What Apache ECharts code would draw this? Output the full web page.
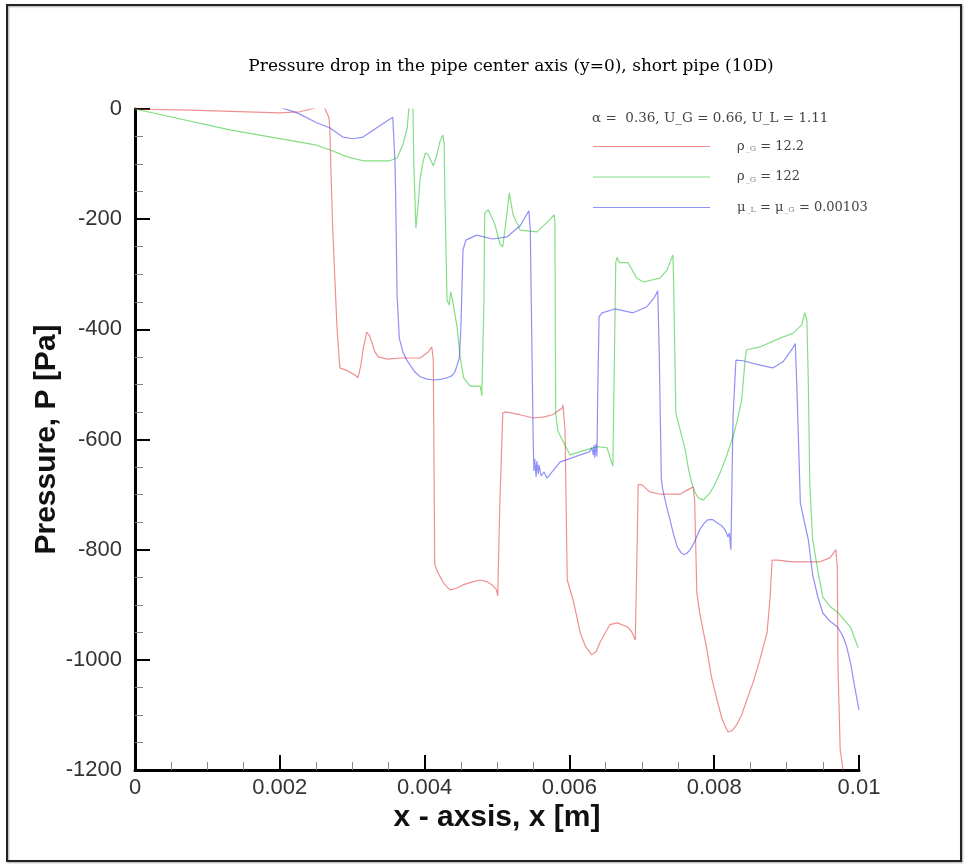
<!DOCTYPE html>
<html>
<head>
<meta charset="utf-8">
<title>Pressure drop in the pipe center axis</title>
<script src="https://cdn.jsdelivr.net/npm/echarts@6/dist/echarts.min.js"></script>
<style>
  html, body { margin: 0; padding: 0; background: #fff; }
  #chart { width: 964px; height: 864px; }
</style>
</head>
<body>
<div id="chart"></div>
<script>
// Centre-axis pressure P [Pa] versus axial position x [m], as [x, P] pairs.
const rhoG12 = [
  [0, 0], [0.00076, -2], [0.00200, -7], [0.00228, -5], [0.00249, 2], [0.00256, 16], [0.00262, 2],
  [0.00268, -16], [0.00269, -34], [0.00273, -216], [0.00279, -397], [0.00283, -470], [0.00293, -475],
  [0.00304, -483], [0.00308, -488], [0.00312, -465], [0.00315, -437], [0.00320, -405], [0.00324, -412],
  [0.00327, -423], [0.00331, -440], [0.00336, -450], [0.00349, -454], [0.00366, -452], [0.00394, -452],
  [0.00405, -441], [0.00410, -432], [0.00412, -456], [0.00414, -826], [0.00417, -838], [0.00421, -848],
  [0.00427, -862], [0.00435, -873], [0.00444, -870], [0.00453, -864], [0.00465, -859], [0.00477, -855],
  [0.00486, -858], [0.00493, -864], [0.00499, -872], [0.00501, -884], [0.00504, -711], [0.00508, -552],
  [0.00511, -550], [0.00532, -555], [0.00550, -561], [0.00565, -559], [0.00577, -555], [0.00590, -543],
  [0.00591, -537], [0.00594, -584], [0.00597, -855], [0.00598, -858], [0.00605, -891], [0.00610, -920],
  [0.00615, -951], [0.00622, -975], [0.00631, -991], [0.00637, -985], [0.00642, -969], [0.00650, -950],
  [0.00656, -936], [0.00666, -933], [0.00680, -940], [0.00686, -949], [0.00691, -964], [0.00693, -831],
  [0.00695, -682], [0.00700, -682], [0.00711, -695], [0.00725, -699], [0.00753, -699], [0.00764, -691],
  [0.00771, -686], [0.00773, -710], [0.00776, -878], [0.00780, -915], [0.00790, -982], [0.00796, -1030],
  [0.00804, -1073], [0.00811, -1108], [0.00819, -1131], [0.00825, -1128], [0.00831, -1118],
  [0.00838, -1100], [0.00845, -1073], [0.00854, -1040], [0.00863, -1000], [0.00873, -951], [0.00877, -891],
  [0.00880, -819], [0.00887, -819], [0.00909, -822], [0.00946, -822], [0.00960, -815], [0.00968, -800],
  [0.00970, -831], [0.00971, -1013], [0.00974, -1163], [0.00978, -1200], [0.00982, -1236]
];

const rhoG122 = [
  [0, 0], [0.00131, -38], [0.00249, -65], [0.00269, -74], [0.00293, -87], [0.00315, -94], [0.00352, -94],
  [0.00362, -89], [0.00370, -65], [0.00376, -34], [0.00378, -2], [0.00381, 16], [0.00384, -2],
  [0.00385, -96], [0.00388, -216], [0.00391, -174], [0.00394, -125], [0.00398, -95], [0.00401, -80],
  [0.00405, -83], [0.00412, -103], [0.00417, -83], [0.00421, -60], [0.00425, -47], [0.00427, -62],
  [0.00428, -156], [0.00431, -347], [0.00434, -356], [0.00436, -332], [0.00439, -350], [0.00445, -397],
  [0.00449, -450], [0.00454, -488], [0.00463, -503], [0.00477, -503], [0.00479, -521], [0.00482, -347],
  [0.00483, -189], [0.00488, -183], [0.00497, -209], [0.00504, -245], [0.00508, -250], [0.00514, -187],
  [0.00517, -152], [0.00522, -191], [0.00532, -220], [0.00555, -223], [0.00570, -205], [0.00579, -192],
  [0.00580, -205], [0.00581, -552], [0.00584, -584], [0.00591, -603], [0.00601, -628], [0.00615, -622],
  [0.00638, -613], [0.00652, -615], [0.00656, -632], [0.00660, -648], [0.00662, -468], [0.00664, -279],
  [0.00666, -269], [0.00669, -279], [0.00681, -279], [0.00693, -307], [0.00702, -314], [0.00725, -307],
  [0.00735, -292], [0.00739, -278], [0.00743, -265], [0.00744, -316], [0.00747, -552], [0.00753, -583],
  [0.00760, -619], [0.00764, -650], [0.00769, -679], [0.00774, -697], [0.00778, -706], [0.00785, -710],
  [0.00794, -697], [0.00800, -684], [0.00808, -661], [0.00817, -630], [0.00826, -595], [0.00832, -565],
  [0.00838, -528], [0.00843, -450], [0.00845, -437], [0.00863, -432], [0.00891, -416], [0.00909, -407],
  [0.00921, -392], [0.00925, -370], [0.00928, -383], [0.00930, -497], [0.00932, -679], [0.00936, -782],
  [0.00943, -837], [0.00950, -886], [0.00960, -903], [0.00970, -913], [0.00988, -940], [0.00999, -978]
];

const muEqual = [
  [0.00186, 16], [0.00203, 2], [0.00224, -7], [0.00251, -25], [0.00269, -34], [0.00287, -51],
  [0.00301, -54], [0.00315, -51], [0.00334, -34], [0.00348, -22], [0.00356, -15], [0.00359, -93],
  [0.00360, -156], [0.00362, -338], [0.00365, -416], [0.00370, -441], [0.00375, -455], [0.00380, -465],
  [0.00387, -478], [0.00394, -486], [0.00402, -490], [0.00412, -492], [0.00422, -491], [0.00431, -488],
  [0.00438, -484], [0.00442, -477], [0.00448, -452], [0.00450, -401], [0.00453, -256], [0.00457, -238],
  [0.00472, -229], [0.00494, -236], [0.00514, -232], [0.00532, -212], [0.00544, -185], [0.00546, -220],
  [0.00550, -601], [0.00551, -657], [0.00552, -635], [0.00554, -668], [0.00555, -639], [0.00557, -663],
  [0.00558, -646], [0.00561, -666], [0.00565, -659], [0.00569, -670], [0.00587, -641], [0.00615, -628],
  [0.00628, -622], [0.00631, -615], [0.00633, -628], [0.00634, -610], [0.00635, -633], [0.00637, -608],
  [0.00638, -631], [0.00639, -528], [0.00641, -377], [0.00645, -370], [0.00663, -363], [0.00688, -370],
  [0.00707, -359], [0.00718, -341], [0.00722, -330], [0.00724, -437], [0.00727, -673], [0.00729, -691],
  [0.00734, -720], [0.00739, -746], [0.00744, -773], [0.00749, -795], [0.00754, -805], [0.00758, -809],
  [0.00762, -807], [0.00767, -800], [0.00773, -785], [0.00780, -764], [0.00786, -752], [0.00791, -746],
  [0.00797, -745], [0.00804, -751], [0.00810, -756], [0.00815, -764], [0.00819, -777], [0.00821, -770],
  [0.00823, -800], [0.00826, -559], [0.00830, -456], [0.00840, -457], [0.00863, -465], [0.00881, -470],
  [0.00895, -459], [0.00907, -437], [0.00912, -426], [0.00914, -497], [0.00919, -715], [0.00923, -740],
  [0.00930, -782], [0.00936, -846], [0.00943, -885], [0.00950, -915], [0.00960, -930], [0.00970, -940],
  [0.00977, -955], [0.00983, -976], [0.00989, -1010], [0.00994, -1049], [0.00997, -1070], [0.01000, -1091]
];

const seriesNames = ['ρ_G = 12.2', 'ρ_G = 122', 'μ_L = μ_G = 0.00103'];
const seriesColors = ['rgba(228, 70, 70, 0.6)', 'rgba(50, 200, 50, 0.6)', 'rgba(70, 70, 240, 0.6)'];
const seriesData = [rhoG12, rhoG122, muEqual];

const xTicks = { min: 0, max: 0.01, step: 0.002 };
const yTicks = { min: -1200, max: 0, step: 200 };

const legendHeader = 'α =  0.36, U_G = 0.66, U_L = 1.11';
const titleText = 'Pressure drop in the pipe center axis (y=0), short pipe (10D)';

const chart = echarts.init(document.getElementById('chart'), null, { renderer: 'canvas' });

const sans = '"Liberation Sans", Arial, Helvetica, sans-serif';
const serif = '"DejaVu Serif", "Liberation Serif", serif';

function fmtX(v) {
  if (Math.abs(v) < 1e-12) return '0';
  return String(parseFloat(v.toFixed(4)));
}
function fmtY(v) {
  return String(Math.round(v));
}

chart.setOption({
  backgroundColor: '#ffffff',
  animation: false,
  grid: { left: 135, right: 105, top: 109, bottom: 94, containLabel: false },
  graphic: [
    {
      type: 'rect', silent: true, z: -1,
      shape: { x: 7, y: 5, width: 954, height: 856 },
      style: { fill: 'none', stroke: '#222', lineWidth: 2, shadowColor: 'rgba(0,0,0,0.35)', shadowBlur: 2, shadowOffsetX: 1, shadowOffsetY: 1 }
    },
    {
      type: 'text', silent: true,
      x: 511, y: 67,
      style: { text: titleText, fill: '#000', font: '17px ' + serif, textAlign: 'center', textVerticalAlign: 'middle' }
    },
    {
      type: 'text', silent: true,
      x: 592, y: 118,
      style: { text: legendHeader, fill: '#444', font: '13.5px ' + serif, textAlign: 'left', textVerticalAlign: 'middle' }
    }
  ],
  legend: {
    orient: 'vertical',
    left: 593, top: 140,
    padding: 0,
    itemWidth: 117, itemHeight: 1,
    itemGap: 17.5,
    icon: 'rect',
    selectedMode: false,
    data: seriesNames,
    formatter: name => name.replace(/_([A-Z])/g, '{s|_$1}'),
    textStyle: {
      fontFamily: serif, fontSize: 13, color: '#444', padding: [0, 0, 0, 22],
      rich: { s: { fontFamily: serif, fontSize: 8, color: '#888', padding: [5, 0, 0, 1] } }
    }
  },
  xAxis: {
    type: 'value',
    min: xTicks.min, max: xTicks.max, interval: xTicks.step,
    name: 'x - axsis, x [m]',
    nameLocation: 'middle', nameGap: 33,
    nameMoveOverlap: false,
    nameTextStyle: { fontFamily: sans, fontSize: 30, fontWeight: 'bold', color: '#111' },
    axisLine: { show: true, onZero: false, lineStyle: { color: '#000', width: 3 } },
    axisTick: { show: true, inside: true, length: 15, lineStyle: { color: '#000', width: 2 } },
    minorTick: { show: true, splitNumber: 4, length: 8, lineStyle: { color: '#888', width: 1 } },
    axisLabel: { margin: 7, fontFamily: sans, fontSize: 22, color: '#333', formatter: fmtX, showMinLabel: true, showMaxLabel: true },
    splitLine: { show: false }
  },
  yAxis: {
    type: 'value',
    min: yTicks.min, max: yTicks.max, interval: yTicks.step,
    name: 'Pressure, P [Pa]',
    nameLocation: 'middle', nameGap: 73,
    nameMoveOverlap: false,
    nameTextStyle: { fontFamily: sans, fontSize: 30, fontWeight: 'bold', color: '#111' },
    axisLine: { show: true, onZero: false, lineStyle: { color: '#000', width: 3 } },
    axisTick: { show: true, inside: true, length: 15, lineStyle: { color: '#000', width: 2 } },
    minorTick: { show: true, splitNumber: 4, length: 8, lineStyle: { color: '#888', width: 1 } },
    axisLabel: { margin: 13, fontFamily: sans, fontSize: 22, color: '#333', formatter: fmtY, showMinLabel: true, showMaxLabel: true },
    splitLine: { show: false }
  },
  series: seriesData.map((d, i) => ({
    name: seriesNames[i],
    type: 'line',
    data: d,
    color: seriesColors[i],
    showSymbol: false,
    symbol: 'none',
    smooth: false,
    clip: true,
    lineStyle: { width: 1.2, color: seriesColors[i] },
    emphasis: { disabled: true }
  }))
});
</script>
</body>
</html>
